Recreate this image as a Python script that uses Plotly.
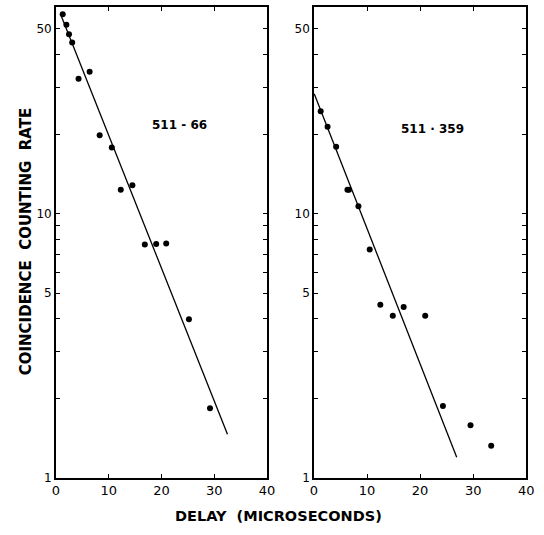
import plotly.graph_objects as go

# Left panel (511-66)
left_x = [1.3, 2.0, 2.5, 3.1, 4.3, 6.4, 8.3, 10.6, 12.3, 14.5, 16.85, 19.0, 20.9, 25.2, 29.2]
left_y = [56.8, 51.9, 47.8, 44.4, 32.4, 34.4, 19.8, 17.8, 12.3, 12.8, 7.64, 7.67, 7.7, 3.98, 1.83]
left_fit_x = [1.05, 32.5]
left_fit_y = [55.9, 1.46]
left_label = "511 - 66"

# Right panel (511-359)
right_x = [1.26, 2.56, 4.17, 6.3, 6.6, 8.37, 10.5, 12.5, 14.85, 16.9, 20.96, 24.3, 29.5, 33.4]
right_y = [24.4, 21.3, 17.9, 12.3, 12.3, 10.65, 7.31, 4.52, 4.1, 4.43, 4.1, 1.87, 1.58, 1.32]
right_fit_x = [0.04, 26.9]
right_fit_y = [28.4, 1.195]
right_label = "511 · 359"

x_ticks = [0, 10, 20, 30, 40]
y_tickvals = [1, 2, 3, 4, 5, 6, 7, 8, 9, 10, 20, 30, 40, 50]
y_ticktext = ["1", "", "", "", "5", "", "", "", "", "10", "", "", "", "50"]

x_title = "DELAY  (MICROSECONDS)"
y_title = "COINCIDENCE  COUNTING  RATE"

W, H = 544, 535
FONT = "DejaVu Sans"

fig = go.Figure()
marker = dict(color="black", size=6)
line = dict(color="black", width=1.3)

fig.add_trace(go.Scatter(x=left_x, y=left_y, mode="markers", marker=marker, xaxis="x", yaxis="y"))
fig.add_trace(go.Scatter(x=left_fit_x, y=left_fit_y, mode="lines", line=line, xaxis="x", yaxis="y"))
fig.add_trace(go.Scatter(x=right_x, y=right_y, mode="markers", marker=marker, xaxis="x2", yaxis="y2"))
fig.add_trace(go.Scatter(x=right_fit_x, y=right_fit_y, mode="lines", line=line, xaxis="x2", yaxis="y2"))

ydom = [(H - 484) / H, (H - 7) / H]

xcommon = dict(range=[0, 40], tickvals=x_ticks, ticks="inside", ticklen=4, tickcolor="black",
               showline=True, linecolor="black", linewidth=1.5, mirror="ticks", showgrid=False,
               zeroline=False, tickfont=dict(family=FONT, size=13, color="black"))
ycommon = dict(type="log", range=[0, 1.7825], tickvals=y_tickvals, ticktext=y_ticktext,
               ticks="inside", ticklen=4, tickcolor="black", showline=True, linecolor="black",
               linewidth=1.5, mirror="ticks", showgrid=False, zeroline=False,
               tickfont=dict(family=FONT, size=12, color="black"), domain=ydom)

fig.update_layout(
    width=W, height=H,
    margin=dict(l=0, r=0, t=0, b=0),
    paper_bgcolor="white", plot_bgcolor="white",
    showlegend=False,
    xaxis=dict(domain=[53 / W, 269 / W], anchor="y", **xcommon),
    yaxis=dict(anchor="x", **ycommon),
    xaxis2=dict(domain=[317 / W, 534 / W], anchor="y2", **xcommon),
    yaxis2=dict(anchor="x2", **ycommon),
    annotations=[
        dict(text="<b>" + left_label + "</b>", x=23.5, y=1.337, xref="x", yref="y", showarrow=False,
             font=dict(family=FONT, size=12, color="black")),
        dict(text="<b>" + right_label + "</b>", x=22.4, y=1.322, xref="x2", yref="y2", showarrow=False,
             font=dict(family=FONT, size=12, color="black")),
        dict(text="<b>" + x_title + "</b>", x=281 / W, y=(H - 523) / H, xref="paper", yref="paper",
             xanchor="center", yanchor="middle",
             showarrow=False, font=dict(family=FONT, size=14.5, color="black")),
        dict(text="<b>" + y_title + "</b>", x=22 / W, y=(H - 245) / H, xref="paper", yref="paper",
             xanchor="center", yanchor="middle",
             showarrow=False, textangle=-90, font=dict(family=FONT, size=15, color="black")),
    ],
)

fig.write_html("out.html")
